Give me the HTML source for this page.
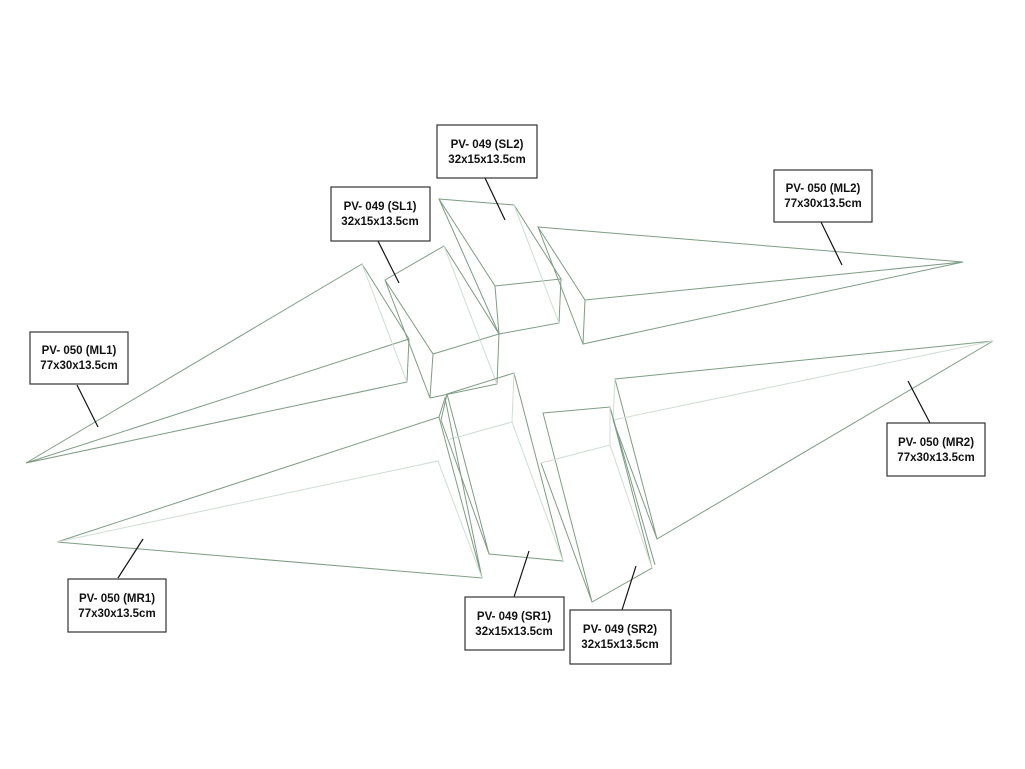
<!DOCTYPE html>
<html><head><meta charset="utf-8"><style>
html,body{margin:0;padding:0;background:#fff;}
svg{display:block;}
text{font-family:"Liberation Sans",sans-serif;font-weight:bold;font-size:11.5px;fill:#111;}
</style></head><body>
<svg width="1025" height="769" viewBox="0 0 1025 769" xmlns="http://www.w3.org/2000/svg">
<g fill="none" stroke="#7e9c86" stroke-width="1">
<!-- ML1 -->
<path d="M26,463 L362,264 L409,339 L407,382 Z M26,463 L409,339"/>
<path d="M362,264 L407,382" stroke="#d0ddd3"/>
<!-- SL1 -->
<path d="M385,280 L444,246 L499,334 L433,354 Z M433,354 L430,398 L497,384 L499,334 M385,280 L430,398"/>
<path d="M444,246 L497,384" stroke="#d0ddd3"/>
<!-- SL2 -->
<path d="M439,199 L514,205 L561,279 L495,286 Z M495,286 L499,334 L559,323 L561,279 M439,199 L499,334"/>
<path d="M514,205 L559,323" stroke="#d0ddd3"/>
<!-- ML2 -->
<path d="M538,227 L963,262 L585,300 Z M585,300 L583,344 L963,262 M538,227 L583,344"/>
<!-- MR2 -->
<path d="M615,379 L993,341 L657,539 Z M613,420 L657,539"/>
<path d="M613,420 L993,341 M615,379 L613,420" stroke="#d0ddd3"/>
<!-- SR2 -->
<path d="M543,413 L610,407 L652,568 L592,602 Z M610,407 L655,565 M541,463 L592,602"/>
<path d="M541,463 L610,445 L652,568 M610,407 L610,445" stroke="#d0ddd3"/>
<!-- SR1 -->
<path d="M447,394 L514,373 L563,561 L489,554 Z M441,420 L489,554 M447,394 L441,420"/>
<path d="M447,440 L512,422 L563,561 M514,373 L512,422" stroke="#d0ddd3"/>
<!-- MR1 -->
<path d="M57,542 L439,417 L482,578 Z M439,417 L445,398 L482,578"/>
<path d="M57,542 L438,461 L482,578" stroke="#d0ddd3"/>
</g>
<g stroke="#111" stroke-width="1.2" fill="none">
<line x1="77" y1="385" x2="98" y2="427"/>
<line x1="378" y1="241" x2="399" y2="283"/>
<line x1="485" y1="178" x2="505" y2="220"/>
<line x1="821" y1="222" x2="842" y2="265"/>
<line x1="930" y1="423" x2="908" y2="381"/>
<line x1="118" y1="578" x2="143" y2="539"/>
<line x1="514" y1="597" x2="529" y2="551"/>
<line x1="622" y1="610" x2="636" y2="566"/>
</g>
<g fill="#fff" stroke="#333" stroke-width="1.2">
<rect x="30" y="332" width="98" height="52"/>
<rect x="331" y="187" width="99" height="54"/>
<rect x="437" y="125" width="100" height="53"/>
<rect x="774" y="170" width="98" height="52"/>
<rect x="887" y="423" width="98" height="53"/>
<rect x="68" y="579" width="98" height="53"/>
<rect x="465" y="597" width="99" height="53"/>
<rect x="570" y="610" width="101" height="54"/>
</g>
<g text-anchor="middle">
<text x="79" y="354">PV- 050 (ML1)</text><text x="79" y="369">77x30x13.5cm</text>
<text x="380" y="210">PV- 049 (SL1)</text><text x="380" y="225">32x15x13.5cm</text>
<text x="487" y="148">PV- 049 (SL2)</text><text x="487" y="163">32x15x13.5cm</text>
<text x="823" y="192">PV- 050 (ML2)</text><text x="823" y="207">77x30x13.5cm</text>
<text x="936" y="446">PV- 050 (MR2)</text><text x="936" y="461">77x30x13.5cm</text>
<text x="117" y="602">PV- 050 (MR1)</text><text x="117" y="617">77x30x13.5cm</text>
<text x="514" y="620">PV- 049 (SR1)</text><text x="514" y="635">32x15x13.5cm</text>
<text x="620" y="633">PV- 049 (SR2)</text><text x="620" y="648">32x15x13.5cm</text>
</g>
</svg>
</body></html>
